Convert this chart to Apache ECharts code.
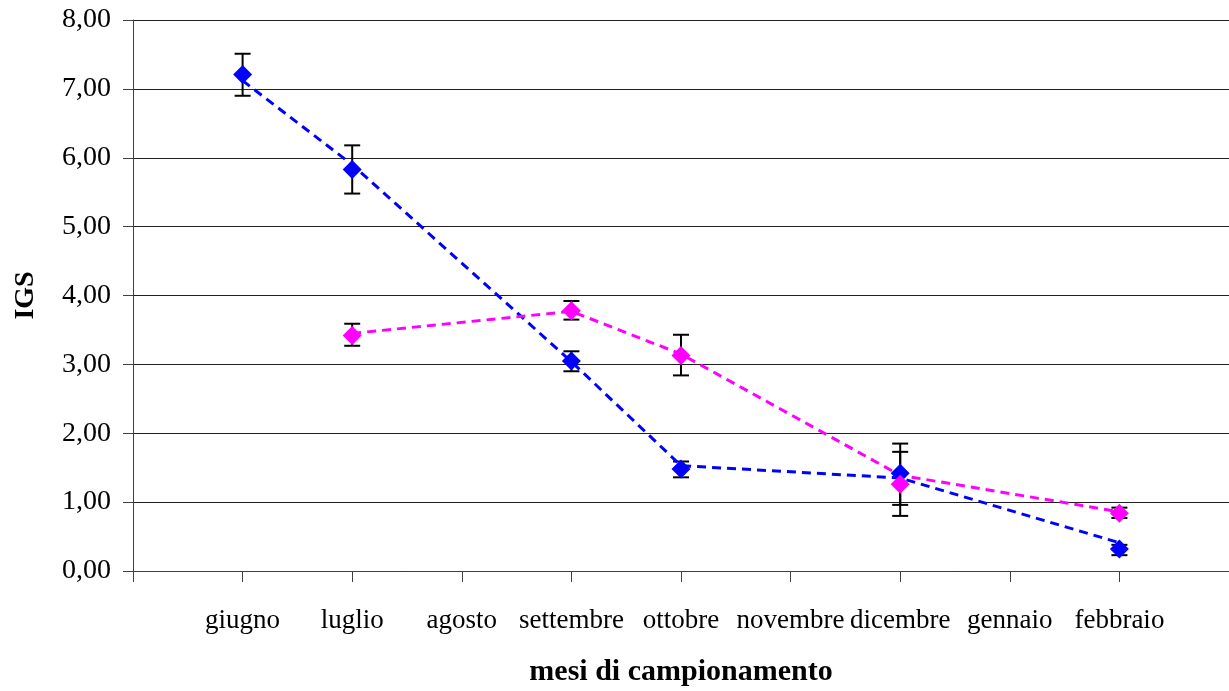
<!DOCTYPE html>
<html>
<head>
<meta charset="utf-8">
<script src="https://cdn.jsdelivr.net/npm/echarts@6/dist/echarts.min.js"></script>
<style>
  html, body { margin: 0; padding: 0; background: #ffffff; }
  #chart { width: 1229px; height: 691px; }
</style>
</head>
<body>
<div id="chart"></div>
<script>
// Sampling months (x axis)
const months = ['giugno', 'luglio', 'agosto', 'settembre', 'ottobre', 'novembre', 'dicembre', 'gennaio', 'febbraio'];

// Y axis ticks
const yTicks = [0, 1, 2, 3, 4, 5, 6, 7, 8];

// Blue group: mean IGS, error bar ends and dashed trend values
const blueMean  = [7.21, 5.83, null, 3.05, 1.48, null, 1.42, null, 0.32];
const blueLow   = [6.90, 5.48, null, 2.90, 1.36, null, 0.96, null, 0.23];
const blueHigh  = [7.51, 6.18, null, 3.19, 1.59, null, 1.85, null, 0.38];
const blueTrend = [7.12, 5.90, null, 3.04, 1.53, null, 1.35, null, 0.41];

// Magenta group
const pinkMean  = [null, 3.42, null, 3.78, 3.13, null, 1.26, null, 0.84];
const pinkLow   = [null, 3.27, null, 3.65, 2.84, null, 0.80, null, 0.77];
const pinkHigh  = [null, 3.59, null, 3.92, 3.43, null, 1.73, null, 0.92];
const pinkTrend = [null, 3.45, null, 3.77, 3.15, null, 1.39, null, 0.86];

const BLUE = '#0000ff';
const PINK = '#ff00ff';
const FONT = '"Liberation Serif", "Times New Roman", serif';

// Axis has an empty slot on each side so months sit on the tick marks
const categories = [''].concat(months, ['']);

function points(values) {
  const out = [];
  values.forEach((v, i) => { if (v !== null) out.push([i + 1, v]); });
  return out;
}
function ranges(low, high) {
  const out = [];
  low.forEach((v, i) => { if (v !== null) out.push([i + 1, v, high[i]]); });
  return out;
}

function renderErrorBar(params, api) {
  const x = api.value(0);
  const lo = api.coord([x, api.value(1)]);
  const hi = api.coord([x, api.value(2)]);
  const half = 8;
  const style = { stroke: '#000000', lineWidth: 2 };
  return {
    type: 'group',
    children: [
      { type: 'line', shape: { x1: lo[0], y1: lo[1], x2: hi[0], y2: hi[1] }, style: style },
      { type: 'line', shape: { x1: hi[0] - half, y1: hi[1], x2: hi[0] + half, y2: hi[1] }, style: style },
      { type: 'line', shape: { x1: lo[0] - half, y1: lo[1], x2: lo[0] + half, y2: lo[1] }, style: style }
    ]
  };
}

const chart = echarts.init(document.getElementById('chart'), null, { renderer: 'canvas' });

chart.setOption({
  animation: false,
  backgroundColor: '#ffffff',
  grid: { left: 133, right: 0, top: 20, bottom: 120, containLabel: false, outerBoundsMode: 'none' },
  xAxis: {
    type: 'category',
    data: categories,
    boundaryGap: false,
    name: 'mesi di campionamento',
    nameLocation: 'middle',
    nameGap: 86,
    nameTextStyle: { fontFamily: FONT, fontSize: 30, fontWeight: 'bold', color: '#000' },
    axisLine: { show: true, lineStyle: { color: '#404040', width: 1 } },
    axisTick: {
      show: true,
      length: 11,
      interval: (idx) => idx < categories.length - 1,
      lineStyle: { color: '#404040', width: 1 }
    },
    axisLabel: {
      interval: 0,
      margin: 36,
      fontFamily: FONT,
      fontSize: 27,
      lineHeight: 27,
      color: '#000'
    },
    splitLine: { show: false }
  },
  yAxis: {
    type: 'value',
    min: yTicks[0],
    max: yTicks[yTicks.length - 1],
    interval: 1,
    name: 'IGS',
    nameLocation: 'middle',
    nameGap: 93,
    nameRotate: 90,
    nameTextStyle: { fontFamily: FONT, fontSize: 28, fontWeight: 'bold', color: '#000' },
    axisLine: { show: true, lineStyle: { color: '#404040', width: 1 } },
    axisTick: { show: true, length: 10, lineStyle: { color: '#404040', width: 1 } },
    axisLabel: {
      margin: 22,
      fontFamily: FONT,
      fontSize: 28,
      color: '#000',
      formatter: (v) => v.toFixed(2).replace('.', ',')
    },
    splitLine: { show: true, lineStyle: { color: '#202020', width: 1 } }
  },
  series: [
    {
      type: 'custom',
      name: 'err-blue',
      renderItem: renderErrorBar,
      data: ranges(blueLow, blueHigh),
      encode: { x: 0, y: [1, 2] },
      z: 2
    },
    {
      type: 'custom',
      name: 'err-pink',
      renderItem: renderErrorBar,
      data: ranges(pinkLow, pinkHigh),
      encode: { x: 0, y: [1, 2] },
      z: 2
    },
    {
      type: 'line',
      name: 'trend-blue',
      data: points(blueTrend),
      showSymbol: false,
      symbol: 'none',
      lineStyle: { color: BLUE, width: 3, type: [9, 6] },
      z: 3
    },
    {
      type: 'line',
      name: 'trend-pink',
      data: points(pinkTrend),
      showSymbol: false,
      symbol: 'none',
      lineStyle: { color: PINK, width: 3, type: [9, 6] },
      z: 3
    },
    {
      type: 'scatter',
      name: 'IGS blu',
      data: points(blueMean),
      symbol: 'diamond',
      symbolSize: 19,
      itemStyle: { color: BLUE, opacity: 1 },
      z: 4
    },
    {
      type: 'scatter',
      name: 'IGS magenta',
      data: points(pinkMean),
      symbol: 'diamond',
      symbolSize: 19,
      itemStyle: { color: PINK, opacity: 1 },
      z: 4
    }
  ]
});
</script>
</body>
</html>
